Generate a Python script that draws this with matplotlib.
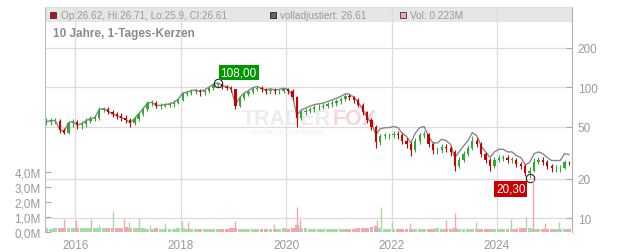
import numpy as np
import pandas as pd
import matplotlib
matplotlib.use('Agg')
import matplotlib.pyplot as plt
from matplotlib.patches import Rectangle
from matplotlib.ticker import FuncFormatter, FixedLocator, NullLocator

plt.rcParams['font.family'] = ['Liberation Sans', 'DejaVu Sans']

# --- monthly data (Jun 2015 .. May 2025) ---
months = pd.date_range('2015-06-01', periods=120, freq='MS') + pd.Timedelta(days=14)

closes = [54, 55, 55, 47, 45, 53, 54, 51, 52, 55,
          57, 58, 67, 68, 65, 62, 60, 58, 56, 53,
          57, 62, 68, 75, 76, 72, 72, 73, 74, 76,
          80, 88, 90, 92, 93, 91, 93, 98, 103, 106,
          101, 99, 96, 72, 82, 88, 92, 97, 99, 96,
          93, 95, 93, 94, 96, 94, 84, 58, 64, 66,
          68, 70, 71, 72, 74, 76, 78, 81, 85, 84,
          80, 73, 64, 56, 50, 38, 42, 43, 43, 44,
          43, 39, 37, 33, 39, 43, 44, 37, 33, 33,
          35, 34, 32, 25, 28, 31, 34, 39, 37, 31,
          28, 25, 28, 29, 29, 28, 28, 26, 25, 22,
          23, 27, 28, 27, 25, 24, 24, 24, 27, 26.6]
highs = [58, 58, 58, 57, 49, 55, 57, 56, 55, 58,
         60, 61, 70, 71, 70, 67, 64, 63, 61, 58,
         60, 64, 70, 78, 79, 78, 75, 76, 77, 79,
         83, 91, 94, 96, 97, 96, 97, 101, 106, 108,
         107, 104, 102, 97, 85, 91, 95, 100, 102, 102,
         99, 98, 98, 97, 99, 99, 96, 86, 67, 69,
         71, 73, 74, 75, 77, 79, 81, 84, 88, 88,
         86, 82, 75, 66, 58, 51, 44, 45, 45, 46,
         46, 45, 41, 38, 41, 45, 46, 45, 38, 35,
         37, 36.5, 35.5, 33, 29.5, 32.5, 36, 42, 41, 38,
         32, 29, 29.5, 30.5, 30.5, 30.5, 29.5, 29, 27, 26,
         24.5, 28.5, 29.5, 29.5, 28, 26, 25.5, 25.5, 28, 27.5]
lows = [51, 51, 52, 45, 43.5, 44, 50, 48, 48, 50,
        53, 55, 56, 64, 62, 59, 57, 55, 53, 49.5,
        51, 55, 60, 66, 72, 69, 68, 70, 70, 71,
        74, 78, 85, 87, 88, 86, 87, 90, 95, 100,
        96, 95, 91, 68, 70, 79, 85, 89, 93, 92,
        89, 89, 89, 89, 90, 89, 80, 50, 56, 61,
        63, 65, 67, 68, 69, 70, 72, 74, 78, 80,
        76, 70, 61, 53, 47, 34, 36, 40, 40, 41,
        40, 37, 34, 30, 32, 37, 41, 35, 31, 31,
        31.5, 32, 30, 23, 24, 27, 30, 33, 35, 29.5,
        26.5, 23, 24, 27, 27.5, 26.5, 26.5, 24.5, 23.5, 21,
        20.3, 22.5, 26, 25.5, 23.5, 22.5, 22.5, 22.5, 23.5, 25.5]
adjusted = [54.5, 55.5, 55.5, 47.5, 45.5, 53.5, 54.5, 51.5, 52.5, 55.5,
            57.5, 58.5, 67.5, 68.5, 65.5, 62.5, 60.5, 58.5, 56.5, 53.5,
            57.5, 62.5, 68.5, 75.5, 76.5, 72.5, 72.5, 73.5, 74.5, 76.5,
            81, 90, 92, 94, 95, 93, 95, 100, 105, 108,
            103, 101, 98, 73.5, 83.5, 90, 94, 99, 101, 98,
            95, 97, 95, 96, 98, 96, 86, 61, 67, 69,
            71.5, 73.5, 74.5, 75.5, 77.5, 80, 82, 85, 89, 88,
            84, 77, 67, 59, 52.5, 43.5, 48, 49, 49, 50,
            49, 44.5, 42, 37.5, 44.5, 49, 50, 42, 37.5, 37.5,
            40, 39, 36.5, 29, 32, 35.5, 39, 45, 42.5, 35.5,
            32, 29, 32, 33.5, 33.5, 32, 32, 30, 29, 25.5,
            26.5, 31, 32, 31, 29, 27.5, 27.5, 27.5, 31, 30.5]
volume_base = [.25, .22, .28, .30, .27, .26, .30, .28, .25, .27,
               .24, .26, .30, .27, .28, .25, .30, .28, .32, .26,
               .27, .25, .24, .22, .20, .24, .22, .23, .21, .20,
               .25, .27, .22, .21, .20, .22, .19, .21, .20, .22,
               .23, .21, .24, .26, .21, .20, .19, .20, .18, .21,
               .20, .22, .19, .21, .24, .22, .28, .45, .30, .24,
               .22, .20, .19, .21, .20, .19, .18, .20, .19, .21,
               .22, .25, .26, .30, .32, .38, .25, .22, .20, .21,
               .19, .20, .21, .22, .20, .18, .19, .20, .22, .24,
               .20, .19, .21, .28, .22, .19, .18, .20, .22, .21,
               .20, .19, .18, .20, .19, .21, .20, .22, .24, .26,
               .25, .22, .20, .21, .19, .20, .22, .21, .23, .22]

# single-day volume spikes (date, millions, up-day?)
spike_dates = pd.to_datetime(['2015-10-15', '2016-01-05', '2016-04-20', '2016-06-10',
                              '2016-09-20', '2016-12-05', '2017-01-10', '2017-03-20',
                              '2017-06-01', '2017-09-15', '2018-01-10', '2018-02-20',
                              '2019-01-10', '2019-10-10', '2020-03-15', '2020-04-05',
                              '2021-09-25', '2021-10-20', '2022-01-05', '2022-05-10',
                              '2023-01-15', '2023-03-15', '2023-08-10', '2024-04-10',
                              '2024-07-20', '2024-09-10', '2024-12-01', '2025-03-10'])
spike_vol = [0.9, 0.8, 0.9, 0.5, 1.4, 0.9, 0.7, 0.95, 0.5, 0.6, 0.75, 0.65,
             0.75, 0.55, 1.65, 0.9, 0.8, 1.65, 0.7, 0.6, 0.8, 1.3, 0.7, 0.9,
             1.0, 3.6, 0.6, 0.7]
spike_up = [0, 0, 0, 1, 1, 0, 1, 1, 1, 1, 1, 0, 0, 1, 0, 0, 0, 1, 1, 0,
            0, 0, 1, 1, 1, 0, 0, 1]

year_ticks = pd.to_datetime(['2016-01-01', '2018-01-01', '2020-01-01', '2022-01-01', '2024-01-01'])
year_labels = ['2016', '2018', '2020', '2022', '2024']
price_ticks = [10, 20, 50, 100, 200]
vol_ticks = [0, 1, 2, 3, 4]

GREEN = '#33a833'
RED = '#cc0000'
VGREEN = '#a6dba6'
VRED = '#f2a6ae'
GRID = '#dcdcdc'
TXT = '#9a9a9a'

W, H = 632, 253
fig = plt.figure(figsize=(W / 100, H / 100), dpi=100)
fig.patch.set_facecolor('white')


def fx(px):
    return px / W


def fy(py):
    return 1 - py / H


ax = fig.add_axes([fx(45), 20 / H, 527 / W, 225 / H])
ax.set_yscale('log')
ax.set_ylim(7.83, 408.6)
ax.set_xlim(pd.Timestamp('2015-06-05'), pd.Timestamp('2025-06-05'))
ax.set_axisbelow(True)

opens = [closes[0]] + closes[:-1]
up = np.array(closes) >= np.array(opens)

# adjusted close line
ax.plot(months, adjusted, color='#888888', lw=1.0, zorder=2)

# candles
body_w = 16
for d, o, h, l, c, u in zip(months, opens, highs, lows, closes, up):
    col = GREEN if u else RED
    ax.vlines(d, l, h, color=col, lw=0.8, zorder=3)
    lo, hi = min(o, c), max(o, c)
    if hi / lo < 1.01:
        hi = lo * 1.01
    ax.bar(d, hi - lo, bottom=lo, width=body_w, color=col, lw=0, zorder=3)

# header band
ax.add_patch(Rectangle((0, 0.9333), 1, 0.0667, transform=ax.transAxes,
                       facecolor='#e6e6e6', edgecolor='none', zorder=0.2))

# watermark
ax.text(fx(331), fy(125), 'TRADER', transform=fig.transFigure, ha='right', va='baseline',
        fontsize=15.5, fontweight='bold', color='#ececec', zorder=1)
ax.text(fx(333), fy(125), 'FOX', transform=fig.transFigure, ha='left', va='baseline',
        fontsize=15.5, fontweight='bold', color='#f9d6d6', zorder=1)
ax.text(fx(287), fy(132), 'REALTIME STOCK SCREENING', transform=fig.transFigure,
        ha='center', va='center', fontsize=3.6, color='#ececec', zorder=1)

ax.set_xticks(year_ticks)
ax.set_xticklabels(year_labels)
ax.tick_params(axis='x', length=0, labelcolor=TXT, labelsize=8.5, pad=5)
ax.grid(True, color=GRID, lw=0.9)

for side in ['top', 'bottom', 'left', 'right']:
    ax.spines[side].set_visible(False)

# extreme annotations
i_hi = int(np.argmax(highs))
i_lo = int(np.argmin(lows))
ax.plot(months[i_hi], highs[i_hi], 'o', ms=6, mfc='none', mec='#222222', mew=0.8, zorder=5)
ax.plot(months[i_lo], lows[i_lo], 'o', ms=6, mfc='none', mec='#222222', mew=0.8, zorder=5)
ax.annotate(f'{highs[i_hi]:.2f}'.replace('.', ','), (months[i_hi], highs[i_hi]),
            xytext=(15, 7.5), textcoords='offset points', ha='center', va='center',
            color='white', fontsize=8.5, zorder=6,
            bbox=dict(boxstyle='square,pad=0.15', fc='#009900', ec='none'))
ax.annotate(f'{lows[i_lo]:.2f}'.replace('.', ','), (months[i_lo], lows[i_lo]),
            xytext=(-13.5, -8), textcoords='offset points', ha='center', va='center',
            color='white', fontsize=8.5, zorder=6,
            bbox=dict(boxstyle='square,pad=0.15', fc='#cc0000', ec='none'))

# volume axis (left)
axv = ax.twinx()
axv.set_ylim(0, 15)
axv.set_xlim(ax.get_xlim())
vcols = [VGREEN if u else VRED for u in up]
axv.bar(months, volume_base, width=27, color=vcols, lw=0, zorder=2)
scols = [VGREEN if u else VRED for u in spike_up]
axv.vlines(spike_dates, 0, spike_vol, colors=scols, lw=1.0, zorder=3)
axv.yaxis.tick_left()
axv.yaxis.set_major_locator(FixedLocator(vol_ticks))
axv.yaxis.set_major_formatter(FuncFormatter(lambda v, p: f'{v:.1f}'.replace('.', ',') + 'M'))
axv.tick_params(axis='y', direction='in', length=4, width=0.8, color='#aaaaaa',
                labelcolor=TXT, labelsize=8.5, pad=3)
axv.spines['top'].set_color('#dddddd')
axv.spines['left'].set_color('#bbbbbb')
axv.spines['right'].set_color('#b0b0b0')
axv.spines['bottom'].set_visible(False)

# price axis formatting (right) - after twinx, which resets it to the left
ax.yaxis.tick_right()
ax.yaxis.set_major_locator(FixedLocator(price_ticks))
ax.yaxis.set_minor_locator(NullLocator())
ax.yaxis.set_major_formatter(FuncFormatter(lambda v, p: f'{v:g}'))
ax.tick_params(axis='y', which='major', direction='in', length=4, width=0.8,
               color='#aaaaaa', labelcolor=TXT, labelsize=8.5, pad=4,
               left=False, labelleft=False, right=True, labelright=True)

# header legend texts
fig.patches.append(Rectangle((fx(50), fy(19)), 6 / W, 6 / H, transform=fig.transFigure,
                             facecolor='#bb1111', edgecolor='#333333', lw=0.6))
fig.patches.append(Rectangle((fx(270), fy(19)), 6 / W, 6 / H, transform=fig.transFigure,
                             facecolor='#666666', edgecolor='#222222', lw=0.6))
fig.patches.append(Rectangle((fx(400), fy(19)), 6 / W, 6 / H, transform=fig.transFigure,
                             facecolor='#f2aab2', edgecolor='#333333', lw=0.6))
fig.text(fx(61), fy(16), 'Op:26.62, Hi:26.71, Lo:25.9, Cl:26.61', ha='left', va='center',
         fontsize=7.2, color=TXT)
fig.text(fx(280), fy(16), 'volladjustiert: 26.61', ha='left', va='center',
         fontsize=7.2, color=TXT)
fig.text(fx(410), fy(16), 'Vol: 0.223M', ha='left', va='center', fontsize=7.2, color=TXT)
fig.text(fx(53), fy(34), '10 Jahre, 1-Tages-Kerzen', ha='left', va='center',
         fontsize=8.5, fontweight='bold', color='#8c8c8c')

fig.savefig('out.png', dpi=100)
